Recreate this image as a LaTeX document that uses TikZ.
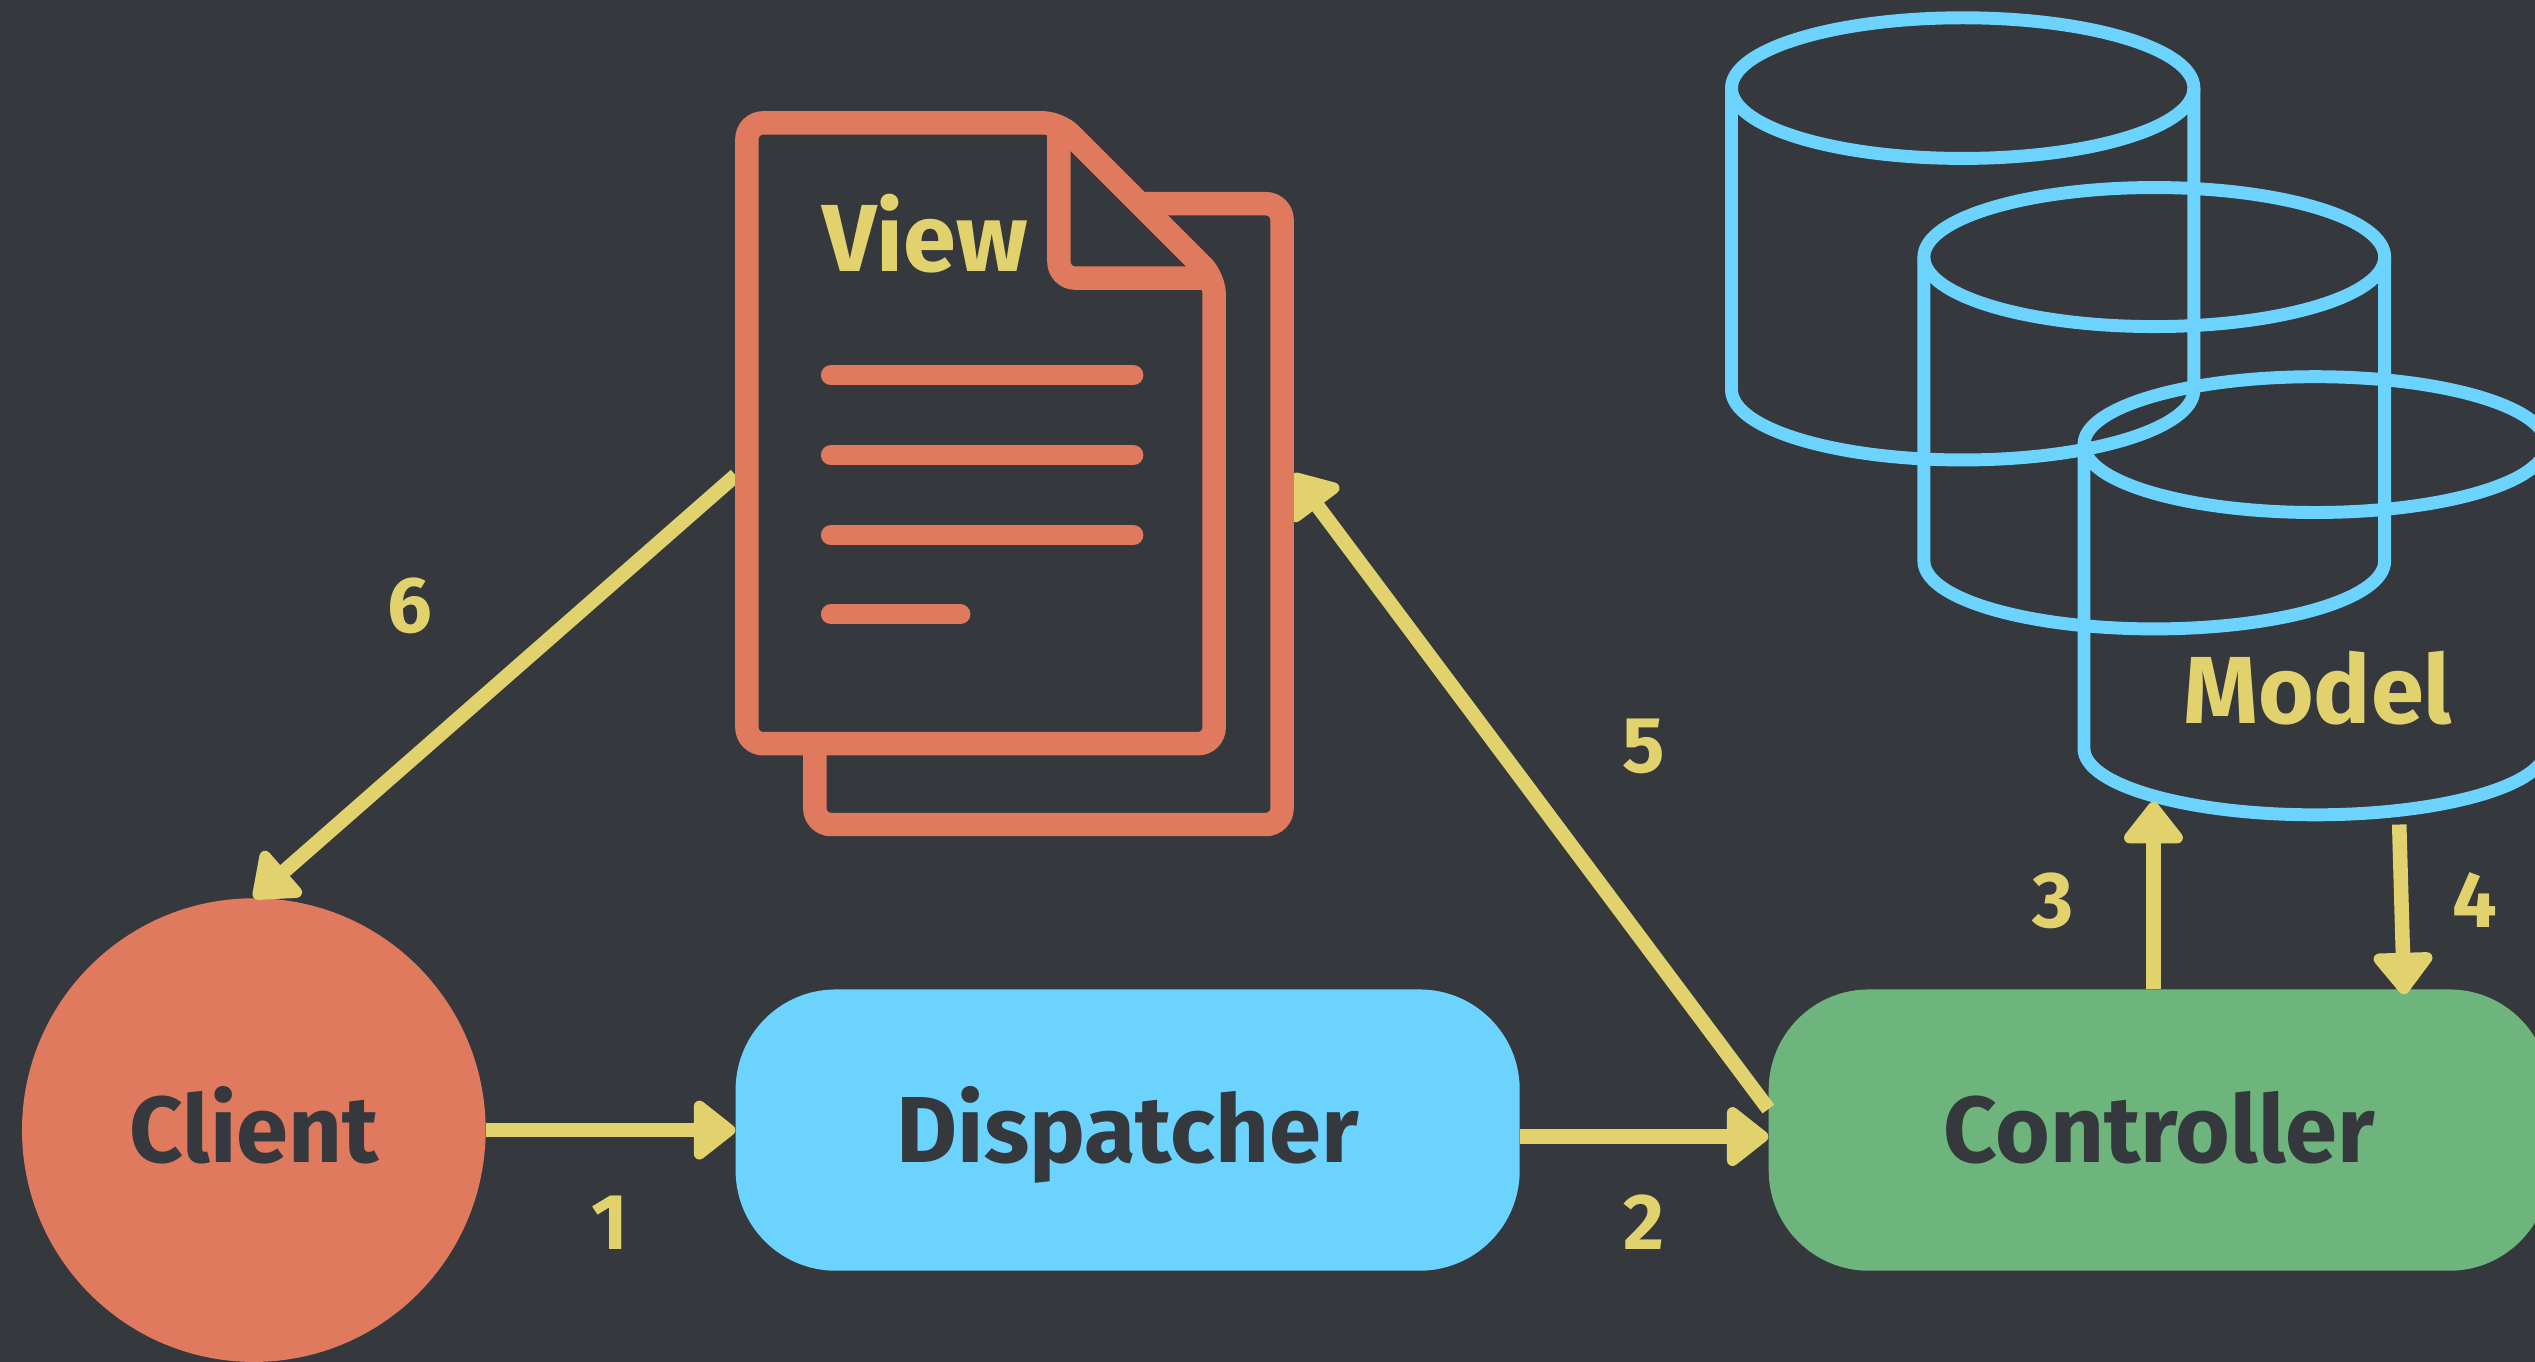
\documentclass[tikz,border=0pt]{standalone}
\usepackage{fontspec}
\setmainfont{Fira Sans}
\usetikzlibrary{arrows.meta}
\definecolor{bg}{RGB}{53,56,60}
\definecolor{corange}{RGB}{224,122,95}
\definecolor{cblue}{RGB}{108,210,254}
\definecolor{cgreen}{RGB}{109,181,125}
\definecolor{cyellow}{RGB}{226,210,110}
\begin{document}
\begin{tikzpicture}[x=1pt,y=-1pt,
  arr/.style={draw=cyellow, line width=9pt, -{Triangle[length=28pt,width=42pt,round]}},
  num/.style={text=cyellow, font=\fontsize{49}{50}\selectfont\bfseries, anchor=base, inner sep=0pt},
  boxlabel/.style={text=bg, font=\fontsize{58}{60}\selectfont\bfseries, text height=40pt, text depth=0pt},
  pill/.style={rectangle, rounded corners=62pt, minimum width=485pt, minimum height=174pt, inner sep=0pt},
  doc/.style={draw=corange, line width=14.5pt, rounded corners=10pt},
  docline/.style={draw=corange, line width=12.5pt, line cap=round},
  cyl/.style={draw=cblue, line width=8pt},
  title/.style={text=cyellow, font=\fontsize{59}{60}\selectfont\bfseries, anchor=base, inner sep=0pt}
]
\useasboundingbox (0,0) rectangle (1568,842.4);
\clip (0,0) rectangle (1568,842.4);
\fill[bg] (0,0) rectangle (1568,842.4);

% main nodes
\node[circle, fill=corange, minimum size=286.8pt, inner sep=0pt, boxlabel] (client) at (157,699) {Client};
\node[pill, fill=cblue, boxlabel] (disp) at (697.5,699) {Dispatcher};
\node[pill, fill=cgreen, minimum width=483pt, boxlabel] (ctrl) at (1335.5,699) {Controller};

% arrows under the View document
\coordinate (v6) at (455,294);
\coordinate (v5) at (800,293);
\draw[arr] (v6) -- (client.north);
\draw[arr] ([yshift=13pt]ctrl.west) -- (v5);

% View document
\draw[doc] (504,126) rectangle (793,510);
\filldraw[doc, fill=bg] (462,76) -- (655,76) -- (751,172) -- (751,460) -- (462,460) -- cycle;
\draw[doc] (655,76) -- (655,172) -- (751,172);
\draw[docline] (514,232) -- (701,232);
\draw[docline] (514,281.5) -- (701,281.5);
\draw[docline] (514,331) -- (701,331);
\draw[docline] (514,380) -- (594,380);
\node[title] (viewt) at (572,168) {View};

% Model cylinders
\draw[cyl] (1214,54.5) ellipse [x radius=143, y radius=43.5];
\draw[cyl] (1071,54.5) -- (1071,241) arc[start angle=180, end angle=0, x radius=143, y radius=43.5] -- (1357,54.5);
\draw[cyl] (1332.5,159) ellipse [x radius=142.5, y radius=43];
\draw[cyl] (1190,159) -- (1190,347) arc[start angle=180, end angle=0, x radius=142.5, y radius=42] -- (1475,159);
\draw[cyl] (1432,275) ellipse [x radius=143, y radius=42];
\draw[cyl] (1289,275) -- (1289,463) arc[start angle=180, end angle=0, x radius=143, y radius=41] -- (1575,275);
\node[title] (modelt) at (1433.5,447.5) {Model};

% other arrows
\coordinate (m3) at (1332,496);
\coordinate (m4) at (1484,510);
\coordinate (c4) at (1487,615);
\draw[arr] (client.east) -- (disp.west);
\draw[arr] ([yshift=-4pt]disp.east) -- ([yshift=-4pt]ctrl.west);
\draw[arr] (ctrl.north -| m3) -- (m3);
\draw[arr] (m4) -- (c4);

% numbers
\node[num] (n1) at (377.5,773) {1};
\node[num] (n2) at (1017,773) {2};
\node[num] (n3) at (1270,574) {3};
\node[num] (n4) at (1531,574) {4};
\node[num] (n5) at (1017,478) {5};
\node[num] (n6) at (253.5,391) {6};
\end{tikzpicture}
\end{document}
